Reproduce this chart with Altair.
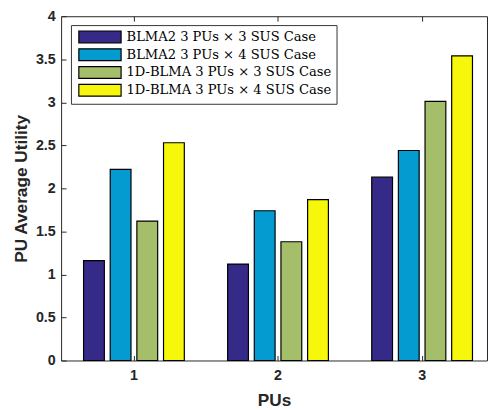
import altair as alt
import pandas as pd

pus = ["1", "2", "3"]
series = [
    "BLMA2 3 PUs × 3 SUS Case",
    "BLMA2 3 PUs × 4 SUS Case",
    "1D-BLMA 3 PUs × 3 SUS Case",
    "1D-BLMA 3 PUs × 4 SUS Case",
]
colors = ["#352a87", "#049bd0", "#a5be6a", "#f7f70b"]
blma2_3x3 = [1.16, 1.12, 2.13]
blma2_3x4 = [2.22, 1.74, 2.44]
blma1d_3x3 = [1.62, 1.38, 3.01]
blma1d_3x4 = [2.53, 1.87, 3.54]
y_ticks = [0, 0.5, 1, 1.5, 2, 2.5, 3, 3.5, 4]

all_vals = [blma2_3x3, blma2_3x4, blma1d_3x3, blma1d_3x4]
rows = []
for s, vals in zip(series, all_vals):
    for p, v in zip(pus, vals):
        rows.append({"pu": p, "series": s, "value": v})
df = pd.DataFrame(rows)

axis_color = "#262626"
x_scale = alt.Scale(domain=pus, paddingInner=0.26, paddingOuter=0.108, align=0.627)
xo_scale = alt.Scale(domain=series, paddingInner=0.22, paddingOuter=0.11)
y_scale = alt.Scale(domain=[0, 4], nice=False, zero=True)

legend = alt.Legend(
    title=None, orient="none", legendX=10, legendY=9,
    strokeColor="#333333", fillColor="white", padding=5, cornerRadius=0,
    symbolType="M-3.58,-1L3.58,-1L3.58,1L-3.58,1Z", symbolSize=144,
    symbolOffset=17.5, labelOffset=20, rowPadding=0.1,
    symbolStrokeColor="black", symbolStrokeWidth=1.2, symbolOpacity=1,
    labelFont="DejaVu Serif", labelFontSize=13.3, labelColor="black",
    labelLimit=400,
)

bars = alt.Chart(df).mark_bar(stroke="black", strokeWidth=1.2, strokeOpacity=1).encode(
    x=alt.X("pu:N", scale=x_scale, sort=pus,
            axis=alt.Axis(title="PUs", orient="bottom", offset=-5, tickSize=5,
                          domain=False, labelAngle=0, labelPadding=8,
                          labelFont="Liberation Sans", labelFontWeight="bold",
                          labelFontSize=14.5, labelColor=axis_color,
                          tickColor=axis_color,
                          titleFont="Liberation Sans", titleFontWeight="bold",
                          titleFontSize=17.5, titleColor=axis_color,
                          titlePadding=10)),
    xOffset=alt.XOffset("series:N", scale=xo_scale, sort=series),
    y=alt.Y("value:Q", scale=y_scale,
            axis=alt.Axis(title="PU Average Utility", values=y_ticks,
                          labelExpr="datum.value + ''", offset=-5, tickSize=5,
                          domain=False, grid=False, labelPadding=6,
                          labelFont="Liberation Sans", labelFontWeight="bold",
                          labelFontSize=14.5, labelColor=axis_color,
                          tickColor=axis_color,
                          titleFont="Liberation Sans", titleFontWeight="bold",
                          titleFontSize=17.5, titleColor=axis_color,
                          titlePadding=5)),
    color=alt.Color("series:N", scale=alt.Scale(domain=series, range=colors),
                    sort=series, legend=legend),
    stroke=alt.value("black"),
)

ghost = alt.Chart(df).mark_bar(opacity=0).encode(
    x=alt.X("pu:N", scale=x_scale, sort=pus,
            axis=alt.Axis(title=None, orient="top", offset=-5, tickSize=5,
                          domain=False, labels=False, tickColor=axis_color)),
    xOffset=alt.XOffset("series:N", scale=xo_scale, sort=series),
    y=alt.Y("value:Q", scale=y_scale, axis=None),
)

chart = alt.layer(bars, ghost).resolve_axis(x="independent", y="independent").properties(
    width=433, height=350,
    autosize=alt.AutoSizeParams(type="none"),
    padding={"left": 54, "top": 5, "right": 1, "bottom": 50},
).configure_view(stroke=axis_color, strokeWidth=1)

chart.save("out.html", embed_options={"renderer": "svg", "actions": False})
